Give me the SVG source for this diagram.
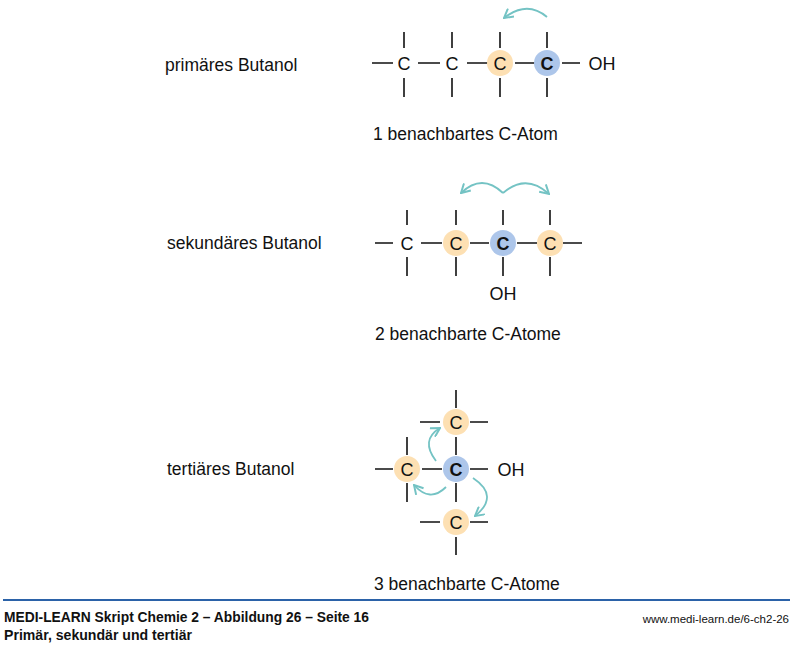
<svg xmlns="http://www.w3.org/2000/svg" width="800" height="653" viewBox="0 0 800 653">
<style>
.b{stroke:#111;stroke-width:1.6;fill:none}
.lbl{font-family:"Liberation Sans",Arial,sans-serif;font-size:17.5px;fill:#111}
.c{font-family:"Liberation Sans",Arial,sans-serif;font-size:18px;fill:#111;text-anchor:middle}
.cb{font-family:"Liberation Sans",Arial,sans-serif;font-size:18px;font-weight:bold;fill:#111;text-anchor:middle}
.p{fill:#fde0b3}
.bl{fill:#adc6ea}
.arr{stroke:#74c3c4;stroke-width:1.8;fill:none;marker-end:url(#ah)}
.ft{font-family:"Liberation Sans",Arial,sans-serif;fill:#111}
</style>
<defs>
<marker id="ah" viewBox="0 0 10 10" refX="9" refY="5" markerWidth="11" markerHeight="11" markerUnits="userSpaceOnUse" orient="auto">
<path d="M1,0.5 L9,5 L1,9.5" stroke="#74c3c4" stroke-width="1.8" fill="none"/>
</marker>
</defs>
<rect width="800" height="653" fill="#fff"/>

<g id="primaer">
<text class="lbl" x="165" y="71">primäres Butanol</text>
<path class="b" d="M372,63H393M418,63H440M467,63H488M515,63H535M562,63H580M404,32V48M404,78V97M452,32V48M452,78V97M500,32V48M500,78V97M547,32V48M547,78V97"/>
<text class="c" x="404" y="69.5">C</text>
<text class="c" x="452" y="69.5">C</text>
<circle class="p" cx="500" cy="63" r="13"/>
<text class="c" x="500" y="69.5">C</text>
<circle class="bl" cx="547" cy="63" r="13"/>
<text class="cb" x="547" y="69.5">C</text>
<text class="c" x="602" y="70">OH</text>
<text class="lbl" x="373" y="140">1 benachbartes C-Atom</text>
</g>

<g id="sekundaer">
<text class="lbl" x="167" y="249">sekundäres Butanol</text>
<path class="b" d="M375,243H393M421,243H442M470,243H489M517,243H537M563,243H582M407,210V225M407,257V276M456,210V225M456,257V276M503,210V225M503,257V276M550,210V225M550,257V276"/>
<text class="c" x="407" y="249.5">C</text>
<circle class="p" cx="456" cy="243" r="13"/>
<text class="c" x="456" y="249.5">C</text>
<circle class="bl" cx="503" cy="243" r="13"/>
<text class="cb" x="503" y="249.5">C</text>
<circle class="p" cx="550" cy="243" r="13"/>
<text class="c" x="550" y="249.5">C</text>
<text class="c" x="503" y="300">OH</text>
<text class="lbl" x="375" y="340">2 benachbarte C-Atome</text>
</g>

<g id="tertiaer">
<text class="lbl" x="167" y="475">tertiäres Butanol</text>
<path class="b" d="M456,390V408M420,422H440M470,422H488M456,437V455M407,437V455M407,483V502M375,469H393M422,469H442M470,469H488M456,483V502M420,522H440M470,522H488M456,537V555"/>
<circle class="p" cx="456" cy="422" r="13"/>
<text class="c" x="456" y="428.5">C</text>
<circle class="p" cx="407" cy="469" r="13"/>
<text class="c" x="407" y="475.5">C</text>
<circle class="bl" cx="456" cy="469" r="13"/>
<text class="cb" x="456" y="475.5">C</text>
<circle class="p" cx="456" cy="522" r="13"/>
<text class="c" x="456" y="528.5">C</text>
<text class="c" x="511" y="476">OH</text>
<text class="lbl" x="374" y="590">3 benachbarte C-Atome</text>
</g>

<g id="connectors">
<path class="arr" d="M547,17 Q527,0 504,18"/>
<path class="arr" d="M503,193 Q482,173 461,193"/>
<path class="arr" d="M503,193 Q526,173 549,194"/>
<path class="arr" d="M436,461 Q420,440 440,428"/>
<path class="arr" d="M446,487 Q430,503 414,485"/>
<path class="arr" d="M473,478 Q500,496 475,516"/>
</g>

<g id="footer">
<line x1="3" y1="600" x2="790" y2="600" stroke="#2b62a8" stroke-width="2"/>
<text class="ft" x="4" y="622" font-size="14" font-weight="bold" textLength="365" lengthAdjust="spacingAndGlyphs">MEDI-LEARN Skript Chemie 2 – Abbildung 26 – Seite 16</text>
<text class="ft" x="4" y="640" font-size="14" font-weight="bold" textLength="188" lengthAdjust="spacingAndGlyphs">Primär, sekundär und tertiär</text>
<text class="ft" x="789" y="623" font-size="11.5" text-anchor="end">www.medi-learn.de/6-ch2-26</text>
</g>
</svg>
